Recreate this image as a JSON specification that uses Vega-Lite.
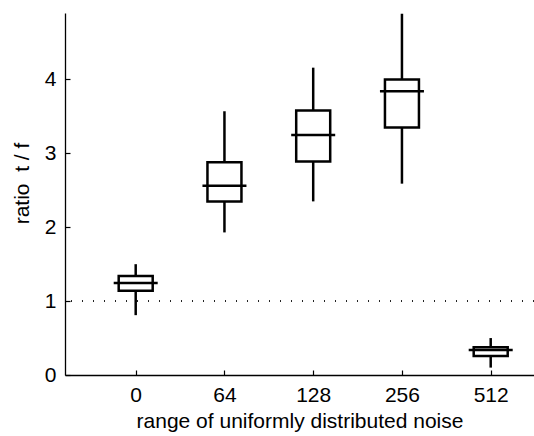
{
  "$schema": "https://vega.github.io/schema/vega-lite/v6.json",
  "width": 469,
  "height": 362,
  "autosize": {"type": "none"},
  "padding": {"left": 65, "top": 13, "right": 0, "bottom": 61},
  "background": "white",
  "config": {
    "view": {"stroke": null},
    "font": "Liberation Sans",
    "axis": {
      "grid": false,
      "domainColor": "black",
      "domainWidth": 1.3,
      "tickColor": "black",
      "tickWidth": 1.2,
      "tickSize": -5,
      "labelColor": "black",
      "titleColor": "black",
      "labelFont": "Liberation Sans",
      "titleFont": "Liberation Sans",
      "titleFontWeight": "normal",
      "labelFontSize": 21,
      "titleFontSize": 21
    },
    "axisX": {"labelPadding": 14, "titlePadding": 5, "labelAngle": 0},
    "axisY": {"labelPadding": 14, "titlePadding": 12}
  },
  "data": {
    "values": [
      {"noise": "0", "lower": 0.81, "q1": 1.14, "median": 1.245, "q3": 1.34, "upper": 1.5},
      {"noise": "64", "lower": 1.93, "q1": 2.35, "median": 2.56, "q3": 2.88, "upper": 3.57},
      {"noise": "128", "lower": 2.35, "q1": 2.89, "median": 3.25, "q3": 3.58, "upper": 4.16},
      {"noise": "256", "lower": 2.59, "q1": 3.35, "median": 3.84, "q3": 4.0, "upper": 4.89},
      {"noise": "512", "lower": 0.1, "q1": 0.257, "median": 0.34, "q3": 0.375, "upper": 0.5}
    ]
  },
  "encoding": {
    "x": {
      "field": "noise",
      "type": "ordinal",
      "sort": ["0", "64", "128", "256", "512"],
      "scale": {"type": "point", "range": [0, 496.4], "padding": 0.7966},
      "axis": {"title": "range of uniformly distributed noise", "titleX": 234.5}
    }
  },
  "layer": [
    {
      "mark": {"type": "rule", "color": "#222", "strokeDash": [1, 10], "strokeWidth": 1.2},
      "encoding": {"y": {"datum": 1}, "x": null}
    },
    {
      "mark": {"type": "rule", "color": "black", "strokeWidth": 2.5},
      "encoding": {
        "y": {
          "field": "lower",
          "type": "quantitative",
          "scale": {"domain": [0, 4.9], "nice": false, "zero": false},
          "axis": {"values": [0, 1, 2, 3, 4], "format": "d", "title": "ratio\u00a0\u00a0t / f", "titleY": 170}
        },
        "y2": {"field": "upper"}
      }
    },
    {
      "mark": {"type": "bar", "fill": "white", "stroke": "black", "strokeWidth": 2.5, "size": 34},
      "encoding": {
        "y": {"field": "q1", "type": "quantitative"},
        "y2": {"field": "q3"}
      }
    },
    {
      "mark": {"type": "tick", "color": "black", "size": 44, "thickness": 2.5, "opacity": 1},
      "encoding": {
        "y": {"field": "median", "type": "quantitative"}
      }
    }
  ]
}
